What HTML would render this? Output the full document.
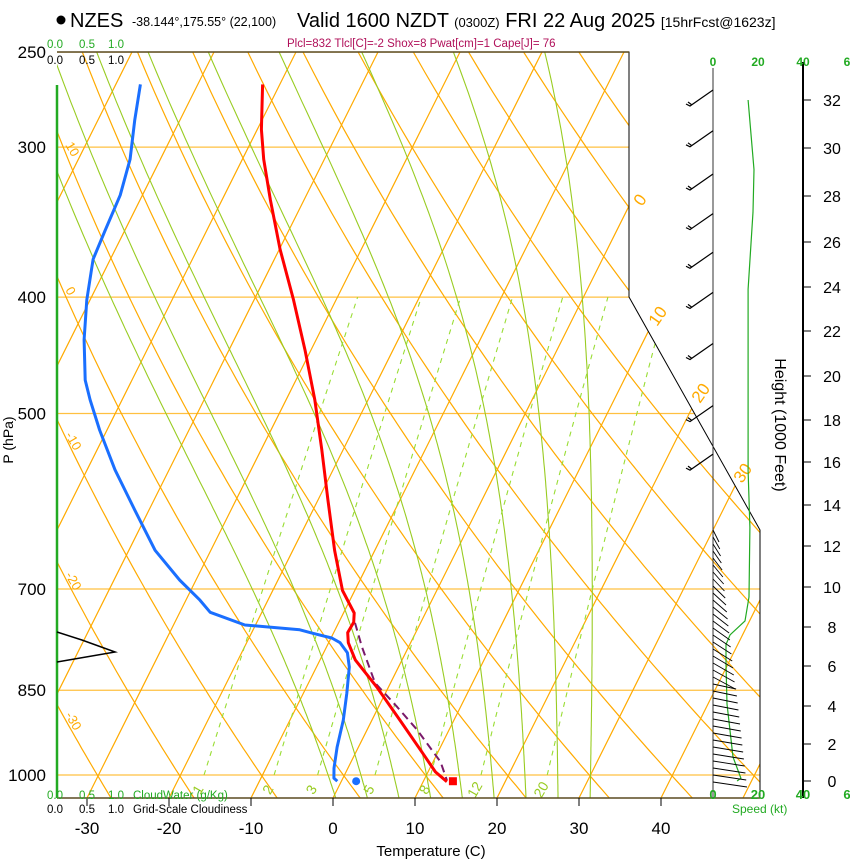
<!DOCTYPE html>
<html><head><meta charset="utf-8">
<style>
body{margin:0;background:#fff;width:850px;height:860px;overflow:hidden;font-family:"Liberation Sans",sans-serif}
svg{position:absolute;left:0;top:0}
</style></head>
<body>
<svg id="chart" width="850" height="860" viewBox="0 0 850 860" font-family="Liberation Sans, sans-serif">
<defs><clipPath id="plotclip"><polygon points="57,52 629,52 629,297 760,530 760,798 57,798"/></clipPath></defs>
<g>
<circle cx="61" cy="20" r="4.5" fill="#000"/>
<text x="70" y="27" font-size="20">NZES</text>
<text x="132" y="26" font-size="12.5">-38.144°,175.55° (22,100)</text>
<text x="297" y="27" font-size="20">Valid 1600 NZDT <tspan font-size="13">(0300Z)</tspan> FRI 22 Aug 2025 <tspan font-size="14">[15hrFcst@1623z]</tspan></text>
<text x="287" y="47" font-size="11.5" fill="#b0105a">Plcl=832 Tlcl[C]=-2 Shox=8 Pwat[cm]=1 Cape[J]= 76</text>
</g>
<g id="bg" clip-path="url(#plotclip)"></g>
<g id="fg"></g>
</svg>
<script>
const pressureTicks=[250,300,400,500,700,850,1000];
const tempTicks=[-30,-20,-10,0,10,20,30,40];
const mixingRatios=[1,2,3,5,8,12,20];
const moistThetas=[-2,2,6,10,14,18,22,26,30];
const profP=[266,290,307,332,365,402,443,487,536,590,650,702,733,746,761,776,802,845,900,959,994,1013];
const profT=[-52.1,-49.5,-47.4,-44.1,-39.9,-35.2,-30.7,-26.5,-22.6,-18.8,-14.9,-11.5,-8.7,-8.2,-8.3,-7.6,-5.7,-1.4,3.4,8.2,10.9,12.9];
const dewP=[266,285,307,329,352,372,402,434,469,487,516,557,602,650,688,715,732,750,757,762,769,776,791,813,855,900,948,987,1006,1012];
const dewT=[-67.0,-65.5,-63.7,-62.7,-62.4,-62.1,-60.4,-58.3,-55.7,-53.9,-50.9,-46.6,-41.7,-36.8,-32.0,-28.3,-26.3,-21.3,-14.3,-12.5,-9.9,-8.6,-7.1,-6.0,-4.7,-3.5,-2.6,-1.7,-1.1,-0.5];
const parcelP=[747,782,838,878,917,975,1010];
const parcelT=[-8.0,-5.7,-1.9,2.3,6.1,10.9,12.8];
const surfaceP=[1012];
const surfaceT=[13.6];
const surfaceTd=[1.8];
const heightTicks=[0,2,4,6,8,10,12,14,16,18,20,22,24,26,28,30,32];
const heightTickY=[781,744,706,666,627,587,546,505,462,420,376,331,287,242,196,148,100];
const speedHeights=[0,0.15,1.3,4.1,6.1,7.1,7.6,8.3,9.5,12.9,15.6,16.1,23.9,27.3,29.1,32.8];
const speedKt=[10.7,12.4,8.9,6.2,5.8,5.8,7.6,14.2,16.0,16.4,15.6,15.6,15.6,17.8,18.2,15.6];
const barbHeights=[32.2,30.3,28.5,26.8,25.1,23.3,21.0,18.2,15.9];
const cloudY=[632,640,652,662];
const cloudFrac=[0,0.3,0.7,0];

const NS='http://www.w3.org/2000/svg';
const bg=document.getElementById('bg'), fg=document.getElementById('fg');
function yP(p){return 775-521.5*Math.log(1000/p);}
function xT(T,p){return 333+8.2*T+0.5*(798-yP(p));}
function yH(h){for(let i=0;i<heightTicks.length-1;i++){if(h<=heightTicks[i+1]){const f=(h-heightTicks[i])/(heightTicks[i+1]-heightTicks[i]);return heightTickY[i]+f*(heightTickY[i+1]-heightTickY[i]);}}return heightTickY[heightTickY.length-1];}
function xS(s){return 713+2.25*s;}
function mk(tag,attrs,parent){const e=document.createElementNS(NS,tag);for(const k in attrs)e.setAttribute(k,attrs[k]);(parent||fg).appendChild(e);return e;}
function pts(a){return a.map(q=>q[0].toFixed(1)+','+q[1].toFixed(1)).join(' ');}

pressureTicks.forEach(p=>{const e=mk('line',{x1:57,x2:760,y1:yP(p),y2:yP(p),stroke:'#ffc040','stroke-width':1.2},bg);

});
for(let T=-120;T<=50;T+=10){const e=mk('line',{x1:xT(T,1050),y1:yP(1050),x2:xT(T,240),y2:yP(240),stroke:'#ffaa00','stroke-width':1.2},bg);

}
for(let th=213;th<=483;th+=10){const a=[];for(let p=1050;p>=240;p-=10){a.push([xT(th*Math.pow(p/1000,0.286)-273.15,p),yP(p)]);}
const e=mk('polyline',{points:pts(a),fill:'none',stroke:'#ffaa00','stroke-width':1.2},bg);

}
function es(T){return 6.112*Math.exp(17.67*T/(T+243.5));}
moistThetas.forEach(tw=>{
const step=(T0,p0,dp)=>{const t=T0,rs=0.622*es(t-273.15)/(p0-es(t-273.15));const g=(287*t+2.5e6*rs)/(1004+2.5e6*2.5e6*rs*0.622/(287*t*t));return T0+g/p0*dp;};
let Tu=tw+273.15;const down=[];let Td=Tu;for(let q=1000;q<1050;q+=5){Td=step(Td,q,5);down.push([xT(Td-273.15,q+5),yP(q+5)]);}
const a=down.reverse();a.push([xT(tw,1000),yP(1000)]);
for(let q=1000;q>240;q-=5){Tu=step(Tu,q,-5);a.push([xT(Tu-273.15,q-5),yP(q-5)]);}
const e=mk('polyline',{points:pts(a),fill:'none',stroke:'#99cc22','stroke-width':1.1},bg);

});
function tdW(w,p){const e=w*p/(622+w);const l=Math.log(e/6.112);return 243.5*l/(17.67-l);}
mixingRatios.forEach(w=>{const a=[];for(let p=1000;p>=400;p-=10)a.push([xT(tdW(w,p),p),yP(p)]);
const e=mk('polyline',{points:pts(a),fill:'none',stroke:'#99dd33','stroke-width':1.1,'stroke-dasharray':'5,5'},bg);


const lx=xT(tdW(w,1000),1000)-2;
const t=mk('text',{x:lx,y:792,'font-size':14,fill:'#99cc22',transform:`rotate(-60 ${lx} 792)`,'text-anchor':'middle'});
t.textContent=w;

});

const fr=mk('polyline',{points:'57,52 629,52 629,297 760,530 760,798 57,798',fill:'none',stroke:'#000','stroke-width':1});


mk('line',{x1:57,x2:629,y1:52,y2:52,stroke:'#5a4a20','stroke-width':1.5});
mk('line',{x1:57,x2:760,y1:798,y2:798,stroke:'#5a4a20','stroke-width':1.5});
const gl=mk('line',{x1:57,x2:57,y1:85,y2:798,stroke:'#22aa22','stroke-width':2.5});


const cl=mk('polyline',{points:pts(cloudY.map((y,i)=>[57+cloudFrac[i]*83,y])),fill:'none',stroke:'#000','stroke-width':1.5});



[[10,65,145],[0,65,290],[-10,65,435],[-20,65,575],[-30,65,715]].forEach(l=>{const t=mk('text',{x:l[1],y:l[2],'font-size':13,fill:'#ffaa00',transform:`rotate(60 ${l[1]} ${l[2]})`});t.textContent=l[0];

});
[[0,642,207],[10,657,327],[20,700,404],[30,742,484]].forEach(l=>{const t=mk('text',{x:l[1],y:l[2],'font-size':17,fill:'#ffaa00',transform:`rotate(-55 ${l[1]} ${l[2]})`});t.textContent=l[0];

});

function curve(P,T,attrs,name){const e=mk('polyline',Object.assign({points:pts(P.map((p,i)=>[xT(T[i],p),yP(p)])),fill:'none','stroke-linejoin':'round'},attrs));

}
curve(dewP,dewT,{stroke:'#1a6fff','stroke-width':3},'dewpoint-line');
curve(parcelP,parcelT,{stroke:'#7a1a6a','stroke-width':2,'stroke-dasharray':'8,5'},'parcel-path');
curve(profP,profT,{stroke:'#ff0000','stroke-width':3},'temperature-line');
const sd=mk('rect',{x:xT(surfaceT[0],surfaceP[0])-4,y:yP(surfaceP[0])-4,width:8,height:8,fill:'#ff0000'});


const sb=mk('circle',{cx:xT(surfaceTd[0],surfaceP[0]),cy:yP(surfaceP[0]),r:4,fill:'#1a6fff'});



pressureTicks.forEach(p=>{const t=mk('text',{x:46,y:yP(p)+6,'font-size':17,'text-anchor':'end'});t.textContent=p;

});
const pl=mk('text',{x:13,y:440,'font-size':14,'text-anchor':'middle',transform:'rotate(-90 13 440)'});pl.textContent='P (hPa)';


tempTicks.forEach(T=>{const x=333+8.2*T;mk('line',{x1:x,x2:x,y1:798,y2:806,stroke:'#000'});
const t=mk('text',{x:x,y:834,'font-size':17,'text-anchor':'middle'});t.textContent=T;

});
const tl=mk('text',{x:431,y:856,'font-size':15,'text-anchor':'middle'});tl.textContent='Temperature (C)';



function txt(x,y,s,fs,fill,name){const t=mk('text',{x:x,y:y,'font-size':fs,fill:fill});t.textContent=s;

return t;}
txt(47,48,'0.0',11.5,'#22aa22','cloudwater-scale-top');txt(79,48,'0.5',11.5,'#22aa22','cloudwater-scale-top');txt(108,48,'1.0',11.5,'#22aa22','cloudwater-scale-top');
txt(47,64,'0.0',11.5,'#000','cloudiness-scale-top');txt(79,64,'0.5',11.5,'#000','cloudiness-scale-top');txt(108,64,'1.0',11.5,'#000','cloudiness-scale-top');
txt(47,799,'0.0',11.5,'#22aa22','cloudwater-legend');txt(79,799,'0.5',11.5,'#22aa22','cloudwater-legend');txt(108,799,'1.0',11.5,'#22aa22','cloudwater-legend');txt(133,799,'CloudWater (g/Kg)',11.5,'#22aa22','cloudwater-legend');
txt(47,813,'0.0',11.5,'#000','cloudiness-legend');txt(79,813,'0.5',11.5,'#000','cloudiness-legend');txt(108,813,'1.0',11.5,'#000','cloudiness-legend');txt(133,813,'Grid-Scale Cloudiness',11.5,'#000','cloudiness-legend');

mk('line',{x1:713,x2:713,y1:68,y2:798,stroke:'#333','stroke-width':1});
const ha=mk('line',{x1:803,x2:803,y1:62,y2:798,stroke:'#000','stroke-width':2});


[['0',713],['20',758],['40',803],['6',847]].forEach(l=>{const a=mk('text',{x:l[1],y:66,'font-size':12,'font-weight':'bold',fill:'#22aa22','text-anchor':'middle'});a.textContent=l[0];


const b=mk('text',{x:l[1],y:799,'font-size':13,'font-weight':'bold',fill:'#22aa22','text-anchor':'middle'});b.textContent=l[0];

});
txt(732,813,'Speed (kt)',12,'#22aa22','speed-axis-title');
heightTicks.forEach((h,i)=>{mk('line',{x1:803,x2:811,y1:heightTickY[i],y2:heightTickY[i],stroke:'#000'});
const t=mk('text',{x:832,y:heightTickY[i]+6,'font-size':16,'text-anchor':'middle'});t.textContent=h;

});
const ht=mk('text',{x:775,y:425,'font-size':16,'text-anchor':'middle',transform:'rotate(90 775 425)'});ht.textContent='Height (1000 Feet)';


const sp=mk('polyline',{points:pts(speedHeights.map((h,i)=>[xS(speedKt[i]),yH(h)])),fill:'none',stroke:'#22aa22','stroke-width':1.2});


barbHeights.forEach(h=>{const y=yH(h);const g=mk('g',{stroke:'#000','stroke-width':1.2,fill:'none'});


mk('polyline',{points:`713,${y-10} 690,${y+6} 686,${y+4}`},g);mk('line',{x1:692,y1:y+5,x2:688,y2:y+2},g);});
for(let y=530;y<=782;y+=7){const f=(y-530)/252;const len=6+f*28;
const l=mk('line',{x1:713,y1:y,x2:713+len,y2:y+(f<0.6?12:5),stroke:'#000','stroke-width':0.9});

}
</script>
</body></html>
